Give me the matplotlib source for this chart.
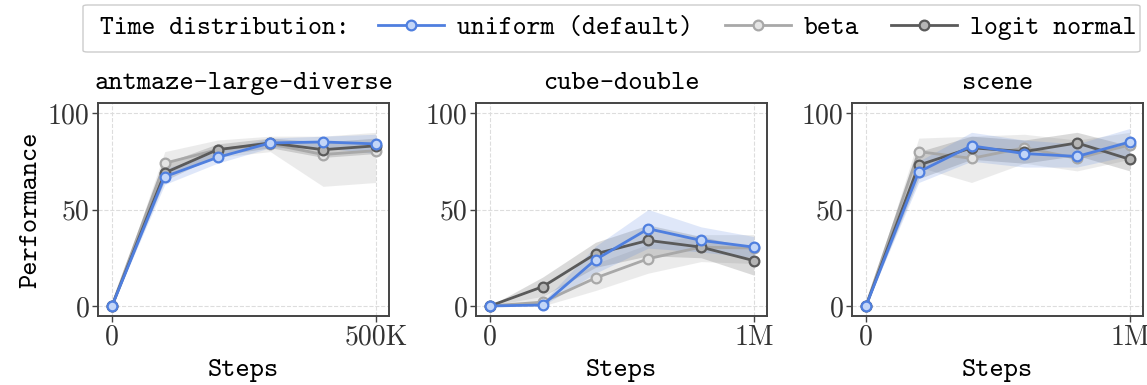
"""Time-distribution ablation: performance vs steps on three tasks."""
import matplotlib
matplotlib.use("Agg")
import matplotlib.patches as patches
import matplotlib.pyplot as plt
from matplotlib.lines import Line2D

# ---- data ----
tasks = ["antmaze-large-diverse", "cube-double", "scene"]
steps = [
    [0, 100e3, 200e3, 300e3, 400e3, 500e3],
    [0, 200e3, 400e3, 600e3, 800e3, 1e6],
    [0, 200e3, 400e3, 600e3, 800e3, 1e6],
]
xtick_labels = [["0", "500K"], ["0", "1M"], ["0", "1M"]]
series_names = ["uniform (default)", "beta", "logit normal"]

uniform_mean = [
    [0, 67, 77, 84.5, 85, 84],
    [0, 0.5, 24, 40, 34, 30.5],
    [0, 69.5, 83, 79, 77.5, 85],
]
uniform_lo = [
    [0, 63, 74, 82, 82, 79],
    [0, 0, 17, 30, 28, 25],
    [0, 64, 75, 72, 72, 78],
]
uniform_hi = [
    [0, 71, 80, 87, 88, 89],
    [0, 2, 31, 50, 41, 36],
    [0, 75, 90, 86, 84, 92],
]
beta_mean = [
    [0, 74, 81, 84, 78.5, 80.5],
    [0, 2, 14.5, 24.5, 30.5, 30],
    [0, 80, 76.5, 82, 76.5, 83.5],
]
beta_lo = [
    [0, 68, 77, 80, 62, 64],
    [0, 0, 8, 17, 23, 22],
    [0, 72, 64, 74, 70, 76],
]
beta_hi = [
    [0, 80, 86, 88, 88, 90],
    [0, 5, 22, 32, 37, 37],
    [0, 87, 88, 89, 86, 90],
]
logit_mean = [
    [0, 69, 81, 84.5, 81, 83],
    [0, 10, 27, 34, 30.5, 23.5],
    [0, 73, 82, 80, 84.5, 76],
]
logit_lo = [
    [0, 65, 78, 82, 77, 79],
    [0, 5, 20, 26, 25, 16],
    [0, 66, 76, 74, 78, 70],
]
logit_hi = [
    [0, 74, 84, 87, 85, 87],
    [0, 15, 33, 42, 36, 30],
    [0, 80, 88, 86, 90, 83],
]

means = [uniform_mean, beta_mean, logit_mean]
lows = [uniform_lo, beta_lo, logit_lo]
highs = [uniform_hi, beta_hi, logit_hi]

line_colors = ["#4f7fdf", "#a8a8a8", "#5a5a5a"]
face_colors = ["#c3d6f8", "#e4e4e4", "#b5b5b5"]
band_alpha = [0.18, 0.22, 0.22]
zorders = [5, 3, 4]

TT = "cmtt10"
RM = "cmr10"

fig = plt.figure(figsize=(11.47, 3.85), dpi=100)
lefts = [98, 476, 852]
W, H = 1147, 385

for i, task in enumerate(tasks):
    ax = fig.add_axes([lefts[i] / W, (H - 316) / H, 291 / W, 213 / H])
    for k in range(3):
        ax.fill_between(steps[i], lows[k][i], highs[k][i], color=line_colors[k],
                        alpha=band_alpha[k], linewidth=0, zorder=zorders[k] - 2)
        ax.plot(steps[i], means[k][i], color=line_colors[k], linewidth=2.0,
                marker="o", markersize=7, markerfacecolor=face_colors[k],
                markeredgecolor=line_colors[k], markeredgewidth=1.6, zorder=zorders[k])
    xmax = steps[i][-1]
    ax.set_xlim(-0.053 * xmax, 1.05 * xmax)
    ax.set_ylim(-5.2, 105.2)
    ax.set_xticks([0, xmax])
    ax.set_xticklabels(xtick_labels[i], fontfamily=RM, fontsize=20)
    ax.set_yticks([0, 50, 100])
    ax.set_yticklabels(["0", "50", "100"], fontfamily=RM, fontsize=20)
    ax.tick_params(length=4, width=1.0, color="#444444", pad=2, labelcolor="#333333")
    ax.grid(True, linestyle="--", color="#dddddd", linewidth=0.8)
    ax.set_axisbelow(True)
    for s in ax.spines.values():
        s.set_color("#444444")
        s.set_linewidth(1.4)
    ax.set_title(task, fontfamily=TT, fontsize=19.5, pad=10)
    ax.set_xlabel("Steps", fontfamily=TT, fontsize=19.5, labelpad=6)
    if i == 0:
        ax.set_ylabel("Performance", fontfamily=TT, fontsize=19.5, labelpad=4)

# legend box: frame + leading text drawn by hand, entries from fig.legend
frame = patches.FancyBboxPatch((83 / W, (H - 52) / H), 1057 / W, 47 / H,
                               boxstyle="round,pad=0,rounding_size=0.004",
                               transform=fig.transFigure, facecolor="white",
                               edgecolor="#cccccc", linewidth=1.0)
fig.patches.append(frame)
fig.text(100 / W, (H - 28) / H, "Time distribution:", fontfamily=TT, fontsize=19,
         ha="left", va="center")

handles = []
for k in range(3):
    handles.append(Line2D([], [], color=line_colors[k], linewidth=2.0, marker="o",
                          markersize=7, markerfacecolor=face_colors[k],
                          markeredgecolor=line_colors[k], markeredgewidth=1.6,
                          label=series_names[k]))
fig.legend(handles=handles, loc="center left", bbox_to_anchor=(378 / W, (H - 28) / H),
           ncol=3, prop={"family": TT, "size": 19}, frameon=False, handlelength=2.5,
           handletextpad=0.5, columnspacing=1.2, borderpad=0, borderaxespad=0)

fig.savefig("out.png", dpi=100)
